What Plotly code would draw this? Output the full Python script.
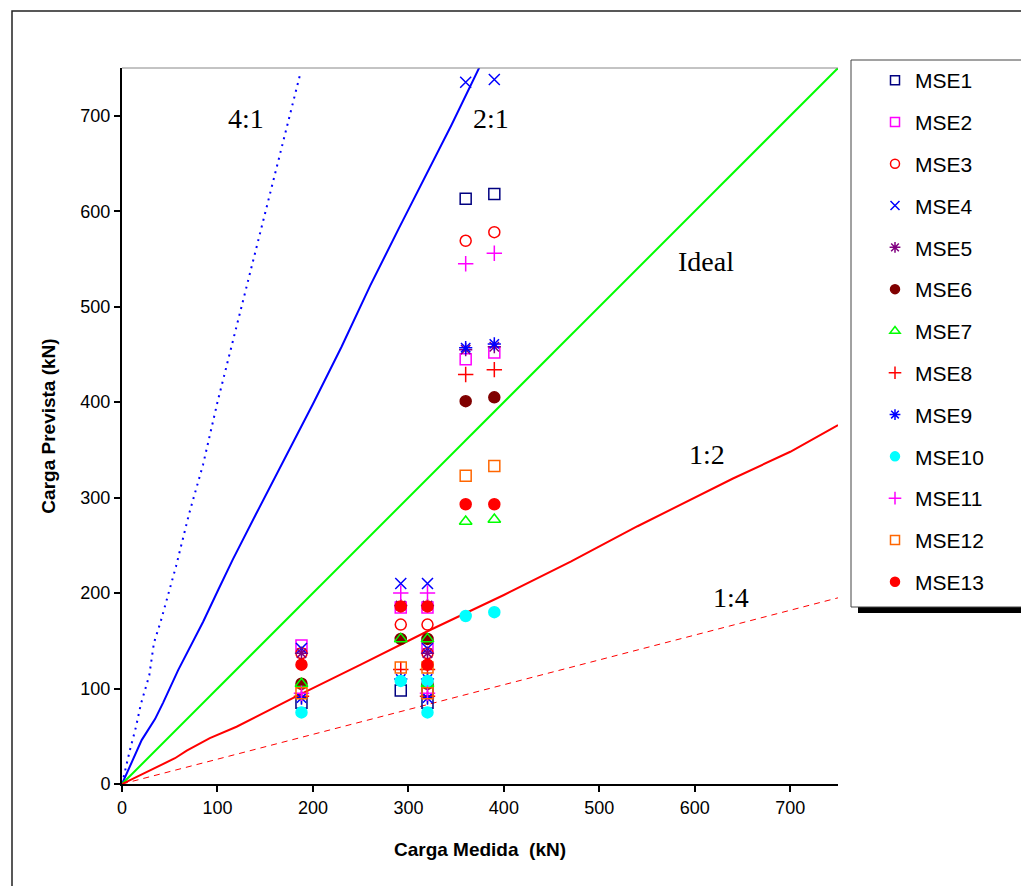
import plotly.graph_objects as go

# Measured load (kN) for each test position
x_meas = [188, 292, 320, 320, 360, 390]

# Predicted load (kN) per method
series = {
    "MSE1": [85, 98, 85, 98, 613, 618],
    "MSE2": [145, 185, 145, 185, 445, 452],
    "MSE3": [137, 167, 137, 167, 569, 578],
    "MSE4": [142, 210, 142, 210, 735, 738],
    "MSE5": [137, 187, 137, 187, 455, 458],
    "MSE6": [105, 152, 105, 152, 401, 405],
    "MSE7": [105, 152, 105, 152, 275, 277],
    "MSE8": [92, 120, 92, 120, 429, 434],
    "MSE9": [90, 110, 90, 110, 457, 461],
    "MSE10": [75, 108, 75, 108, 176, 180],
    "MSE11": [95, 200, 95, 200, 545, 556],
    "MSE12": [95, 122, 95, 122, 323, 333],
    "MSE13": [125, 186, 125, 186, 293, 293],
}

symbols = {
    "MSE1": "square-open", "MSE2": "square-open", "MSE3": "circle-open",
    "MSE4": "x-thin-open", "MSE5": "asterisk-open", "MSE6": "circle",
    "MSE7": "triangle-up-open", "MSE8": "cross-thin-open", "MSE9": "asterisk-open",
    "MSE10": "circle", "MSE11": "cross-thin-open", "MSE12": "square-open",
    "MSE13": "circle",
}
colors = {
    "MSE1": "#000080", "MSE2": "#FF00FF", "MSE3": "#FF0000", "MSE4": "#0000FF",
    "MSE5": "#800080", "MSE6": "#800000", "MSE7": "#00FF00", "MSE8": "#FF0000",
    "MSE9": "#0000FF", "MSE10": "#00FFFF", "MSE11": "#FF00FF", "MSE12": "#FF6600",
    "MSE13": "#FF0000",
}

# Reference ratio lines
line_41_x = [0, 3, 8.4, 14.7, 19.6, 28.6, 33.5, 40.5, 46.8, 56.6, 70, 85, 100, 120, 140, 160, 175, 187]
line_41_y = [0, 13, 36, 60, 83, 114, 148, 170, 193, 228, 282, 335, 400, 480, 560, 640, 700, 745]
line_21_x = [0, 20.6, 34.6, 43, 58.7, 71, 85, 100.6, 116, 140, 170, 200, 230, 260, 290, 320, 345, 375]
line_21_y = [0, 46, 68, 85, 119, 143, 170, 203, 235, 282, 340, 398, 458, 522, 582, 640, 690, 752]
ideal_x = [0, 750]
ideal_y = [0, 750]
line_12_x = [0, 55.5, 67.8, 92, 120, 151.6, 183, 250, 320, 400, 470, 540, 620, 640, 700, 750]
line_12_y = [0, 27, 35, 48, 60, 76, 92, 125, 160, 198, 233, 270, 310, 320, 348, 376]
line_14_x = [0, 750]
line_14_y = [0, 195]

fig = go.Figure()

fig.add_trace(go.Scatter(x=line_41_x, y=line_41_y, mode="lines", showlegend=False,
                         line=dict(color="#0000FF", width=2, dash="2px,5px")))
fig.add_trace(go.Scatter(x=line_21_x, y=line_21_y, mode="lines", showlegend=False,
                         line=dict(color="#0000FF", width=2)))
fig.add_trace(go.Scatter(x=ideal_x, y=ideal_y, mode="lines", showlegend=False,
                         line=dict(color="#00FF00", width=2)))
fig.add_trace(go.Scatter(x=line_12_x, y=line_12_y, mode="lines", showlegend=False,
                         line=dict(color="#FF0000", width=2)))
fig.add_trace(go.Scatter(x=line_14_x, y=line_14_y, mode="lines", showlegend=False,
                         line=dict(color="#FF0000", width=1, dash="6px,5px")))

for name, vals in series.items():
    sym = symbols[name]
    fig.add_trace(go.Scatter(
        x=x_meas, y=vals, mode="markers", name=name, legendgroup=name, showlegend=False,
        marker=dict(symbol=sym, size=11, color=colors[name],
                    line=dict(color=colors[name], width=1.5)),
    ))
    # legend-only entry with the smaller legend symbol
    fig.add_trace(go.Scatter(
        x=[None], y=[None], mode="markers", name=name, legendgroup=name, showlegend=True,
        marker=dict(symbol=sym, size=9, color=colors[name],
                    line=dict(color=colors[name], width=1.5)),
    ))

ann_font = dict(family="Liberation Serif", size=28, color="black")
for txt, ax, ay in [("4:1", 130, 697), ("2:1", 386, 697), ("Ideal", 612, 547),
                    ("1:2", 613, 345), ("1:4", 638, 195)]:
    fig.add_annotation(x=ax, y=ay, text=txt, showarrow=False, font=ann_font)

# outer chart border and legend box with shadow (paper coords)
W = 716.0
def px(x):
    return (x - 122) / W
def py(y):
    return (784 - y) / W

shapes = [
    dict(type="rect", xref="paper", yref="paper", x0=px(12), x1=px(1100), y0=py(950), y1=py(11),
         line=dict(color="#222222", width=1.5), fillcolor="rgba(0,0,0,0)", layer="below"),
    dict(type="rect", xref="paper", yref="paper", x0=px(858), x1=px(1100), y0=py(613), y1=py(606),
         line=dict(width=0), fillcolor="black", layer="below"),
    dict(type="rect", xref="paper", yref="paper", x0=px(851), x1=px(1100), y0=py(607), y1=py(60),
         line=dict(color="#444444", width=1), fillcolor="white", layer="below"),
    dict(type="line", xref="paper", yref="paper", x0=0, x1=1, y0=1, y1=1,
         line=dict(color="#888888", width=1)),
]

fig.update_layout(
    width=1021, height=886,
    margin=dict(l=122, r=183, t=68, b=102),
    paper_bgcolor="white", plot_bgcolor="white",
    font=dict(family="Liberation Sans", color="black"),
    shapes=shapes,
    showlegend=True,
    legend=dict(x=px(875), y=py(60), xanchor="left", yanchor="top",
                bgcolor="rgba(0,0,0,0)", borderwidth=0, maxheight=1000,
                font=dict(family="Liberation Sans", size=21, color="black"),
                tracegroupgap=11.5, traceorder="grouped", itemwidth=30),
    xaxis=dict(range=[0, 750], tickvals=[0, 100, 200, 300, 400, 500, 600, 700],
               showgrid=False, zeroline=False, showline=True, linecolor="black", linewidth=2,
               ticks="outside", ticklen=6, tickcolor="black", tickwidth=1.5,
               tickfont=dict(size=18, family="Liberation Sans"),
               title=dict(text="<b>Carga Medida  (kN)</b>", font=dict(size=19), standoff=26)),
    yaxis=dict(range=[0, 750], tickvals=[0, 100, 200, 300, 400, 500, 600, 700],
               showgrid=False, zeroline=False, showline=True, linecolor="black", linewidth=2,
               ticks="outside", ticklen=6, tickcolor="black", tickwidth=1.5,
               tickfont=dict(size=18, family="Liberation Sans"),
               title=dict(text="<b>Carga Prevista (kN)</b>", font=dict(size=19), standoff=20)),
)

fig.write_html("out.html")
